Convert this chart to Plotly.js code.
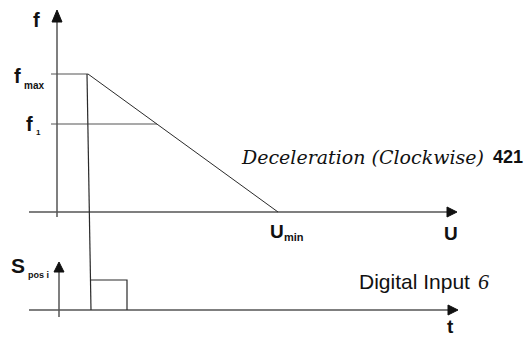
<!DOCTYPE html>
<html>
<head>
<meta charset="utf-8">
<script src="https://cdn.plot.ly/plotly-3.0.1.min.js"></script>
<style>
  html, body { margin: 0; padding: 0; background: #fff; }
  #chart { width: 529px; height: 338px; }
</style>
</head>
<body>
<div id="chart"></div>
<script>
// diagram coordinates (x to the right, y downwards)
const fAxisX = [57, 57];
const fAxisY = [22, 217];
const uAxisX = [29, 447];
const uAxisY = [212, 212];
const tAxisX = [29, 448];
const tAxisY = [310, 310];
const sAxisX = [59, 59];
const sAxisY = [272, 317];

const fmaxLevelX = [51, 88];
const fmaxLevelY = [74, 74];
const f1LevelX = [51, 157];
const f1LevelY = [124, 124];
const decelX = [88, 278];
const decelY = [74, 212];
const signalX = [87, 91, 91];
const signalY = [74, 280, 310];
const pulseX = [91, 127, 127];
const pulseY = [280, 280, 310];

// arrow heads: tip, base, base
const fHeadX = [57, 52, 62];
const fHeadY = [10, 22, 22];
const uHeadX = [457, 447, 447];
const uHeadY = [212, 207, 217];
const tHeadX = [458, 448, 448];
const tHeadY = [310, 305, 315];
const sHeadX = [59, 54, 64];
const sHeadY = [262, 272, 272];

const axisColor = '#555';
const lineColor = '#2a2a2a';

function line(x, y, color, width) {
    return {
        x: x, y: y, type: 'scatter', mode: 'lines',
        line: { color: color, width: width },
        hoverinfo: 'skip', showlegend: false
    };
}

function head(x, y) {
    return {
        x: x.concat([x[0]]), y: y.concat([y[0]]), type: 'scatter', mode: 'lines',
        fill: 'toself', fillcolor: '#111',
        line: { color: '#111', width: 1 },
        hoverinfo: 'skip', showlegend: false
    };
}

const data = [
    line(fAxisX, fAxisY, axisColor, 1.5),
    line(uAxisX, uAxisY, axisColor, 1.5),
    line(tAxisX, tAxisY, axisColor, 1.5),
    line(sAxisX, sAxisY, axisColor, 1.5),
    line(fmaxLevelX, fmaxLevelY, axisColor, 1.2),
    line(f1LevelX, f1LevelY, axisColor, 1.2),
    line(decelX, decelY, lineColor, 1),
    line(signalX, signalY, lineColor, 1.2),
    line(pulseX, pulseY, lineColor, 1.2),
    head(fHeadX, fHeadY),
    head(uHeadX, uHeadY),
    head(tHeadX, tHeadY),
    head(sHeadX, sHeadY)
];

const sans = 'Liberation Sans';
const serif = 'Liberation Serif';

function label(text, x, y, size, family) {
    return {
        text: text, x: x, y: y, xref: 'x', yref: 'y', showarrow: false,
        xanchor: 'left', yanchor: 'middle',
        font: { family: family || sans, size: size, color: '#111' }
    };
}

const annotations = [
    label('<b>f</b>', 31, 20, 20),
    label('<b>f</b>', 12, 76, 20),
    label('<b>max</b>', 22, 85, 10),
    label('<b>f</b>', 24, 124, 20),
    label('<b>1</b>', 34, 132, 8),
    label('<i>Deceleration (Clockwise)</i>', 239, 157, 19, 'DejaVu Serif'),
    label('<b>421</b>', 491, 157, 18),
    label('<b>U</b>', 268, 231, 19),
    label('<b>min</b>', 282, 237, 11),
    label('<b>U</b>', 442, 233, 19),
    label('<b>S</b>', 9, 265, 21),
    label('<b>pos i</b>', 26, 275, 9),
    label('Digital Input', 357, 281, 21),
    label('<i>6</i>', 476, 281, 22, serif),
    label('<b>t</b>', 445, 326, 19)
];

const layout = {
    width: 529,
    height: 338,
    margin: { l: 0, r: 0, t: 0, b: 0 },
    paper_bgcolor: '#fff',
    plot_bgcolor: '#fff',
    xaxis: { range: [0, 529], visible: false, fixedrange: true },
    yaxis: { range: [338, 0], visible: false, fixedrange: true },
    annotations: annotations,
    showlegend: false
};

Plotly.newPlot('chart', data, layout, { displayModeBar: false, staticPlot: true });
</script>
</body>
</html>
